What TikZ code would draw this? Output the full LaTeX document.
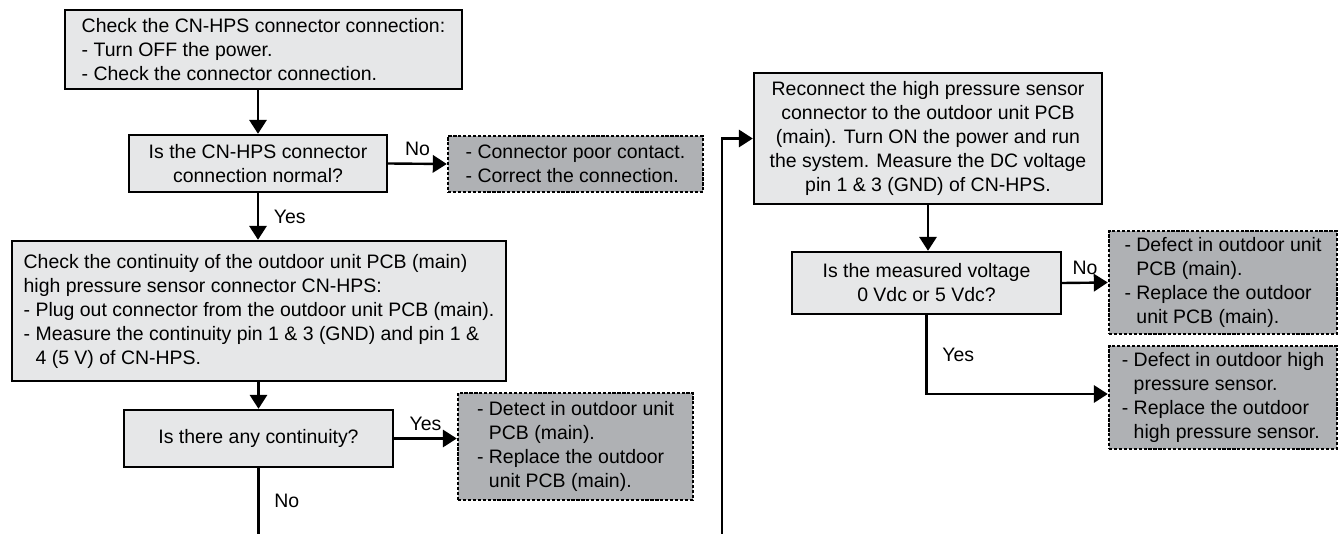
\documentclass[tikz,border=0pt]{standalone}
\usepackage{fontspec}
\setmainfont{Liberation Sans}
\usetikzlibrary{arrows.meta}

\definecolor{stepfill}{HTML}{E6E7E8}
\definecolor{faultfill}{HTML}{AFB1B4}
\newcommand{\hangsp}{\phantom{- }}

\begin{document}
\begin{tikzpicture}[x=0.75pt,y=-0.75pt]
\tikzset{
  flowbase/.style={line width=1.8pt,inner sep=0pt,font=\fontsize{14.6pt}{18pt}\selectfont},
  stepbox/.style={flowbase,draw,fill=stepfill},
  faultbox/.style={flowbase,draw,fill=faultfill,dash pattern=on 2.4pt off 1.3pt,align=left},
  flow/.style={-{Triangle[length=10.5pt,width=13pt]},line width=1.8pt},
  flowline/.style={line width=1.8pt},
  answer/.style={font=\fontsize{14.6pt}{18pt}\selectfont,inner sep=2pt}
}
\useasboundingbox (0,0) rectangle (1338,534);

% left column
\node[stepbox,align=left,minimum width=297.75pt,minimum height=59.25pt] (chk_conn) at (263.5,49.5)
  {Check the CN-HPS connector connection:\\- Turn OFF the power.\\- Check the connector connection.};
\node[stepbox,align=center,minimum width=193.5pt,minimum height=42.75pt] (q_conn) at (258,163.5)
  {Is the CN-HPS connector\\connection normal?};
\node[faultbox,minimum width=191.25pt,minimum height=42pt] (f_conn) at (575.5,164)
  {- Connector poor contact.\\- Correct the connection.};
\node[stepbox,align=left,minimum width=370.5pt,minimum height=105pt] (chk_cont) at (259,311)
  {Check the continuity of the outdoor unit PCB (main)\\high pressure sensor connector CN-HPS:\\- Plug out connector from the outdoor unit PCB (main).\\- Measure the continuity pin 1 \& 3 (GND) and pin 1 \&\\\hangsp 4 (5 V) of CN-HPS.};
\node[stepbox,align=center,minimum width=201.75pt,minimum height=42.75pt] (q_cont) at (258.5,438.5)
  {Is there any continuity?};
\node[faultbox,minimum width=176.25pt,minimum height=80.25pt] (f_pcb1) at (575.5,446.5)
  {- Detect in outdoor unit\\\hangsp PCB (main).\\- Replace the outdoor\\\hangsp unit PCB (main).};
\coordinate (cont_out) at (258.5,534);

% right column
\coordinate (volt_in) at (722,534);
\node[stepbox,align=center,minimum width=261pt,minimum height=98.25pt] (chk_volt) at (928,138.5)
  {Reconnect the high pressure sensor\\connector to the outdoor unit PCB\\(main). Turn ON the power and run\\the system. Measure the DC voltage\\pin 1 \& 3 (GND) of CN-HPS.};
\node[stepbox,align=center,minimum width=201.75pt,minimum height=46.5pt] (q_volt) at (926.5,283)
  {Is the measured voltage\\0 Vdc or 5 Vdc?};
\node[faultbox,minimum width=171pt,minimum height=77.25pt] (f_pcb2) at (1223,282.5)
  {- Defect in outdoor unit\\\hangsp PCB (main).\\- Replace the outdoor\\\hangsp unit PCB (main).};
\node[faultbox,minimum width=171pt,minimum height=77.25pt] (f_sensor) at (1223,397.5)
  {- Defect in outdoor high\\\hangsp pressure sensor.\\- Replace the outdoor\\\hangsp high pressure sensor.};
\coordinate (yes_turn) at (926.5,394);

% connectors
\draw[flow] (chk_conn.south -| q_conn.north) -- (q_conn.north);
\draw[flow] (q_conn.east) -- node[answer,above=3pt] {No} (f_conn.west);
\draw[flow] (q_conn.south) -- node[answer,right=9pt] {Yes} (q_conn.south |- chk_cont.north);
\draw[flow] (chk_cont.south -| q_cont.north) -- (q_cont.north);
\draw[flow] (q_cont.east) -- node[answer,above=3pt] {Yes} (q_cont.east -| f_pcb1.west);
\draw[flowline] (q_cont.south) -- node[answer,right=9pt] {No} (cont_out);
\draw[flow] (volt_in) |- (chk_volt.west);
\draw[flow] (chk_volt.south) -- (chk_volt.south |- q_volt.north);
\draw[flow] (q_volt.east) -- node[answer,above=3pt] {No} (f_pcb2.west);
\draw[flow] (q_volt.south) -- node[answer,pos=0.5,right=9pt] {Yes} (yes_turn) -- (yes_turn -| f_sensor.west);
\end{tikzpicture}
\end{document}
